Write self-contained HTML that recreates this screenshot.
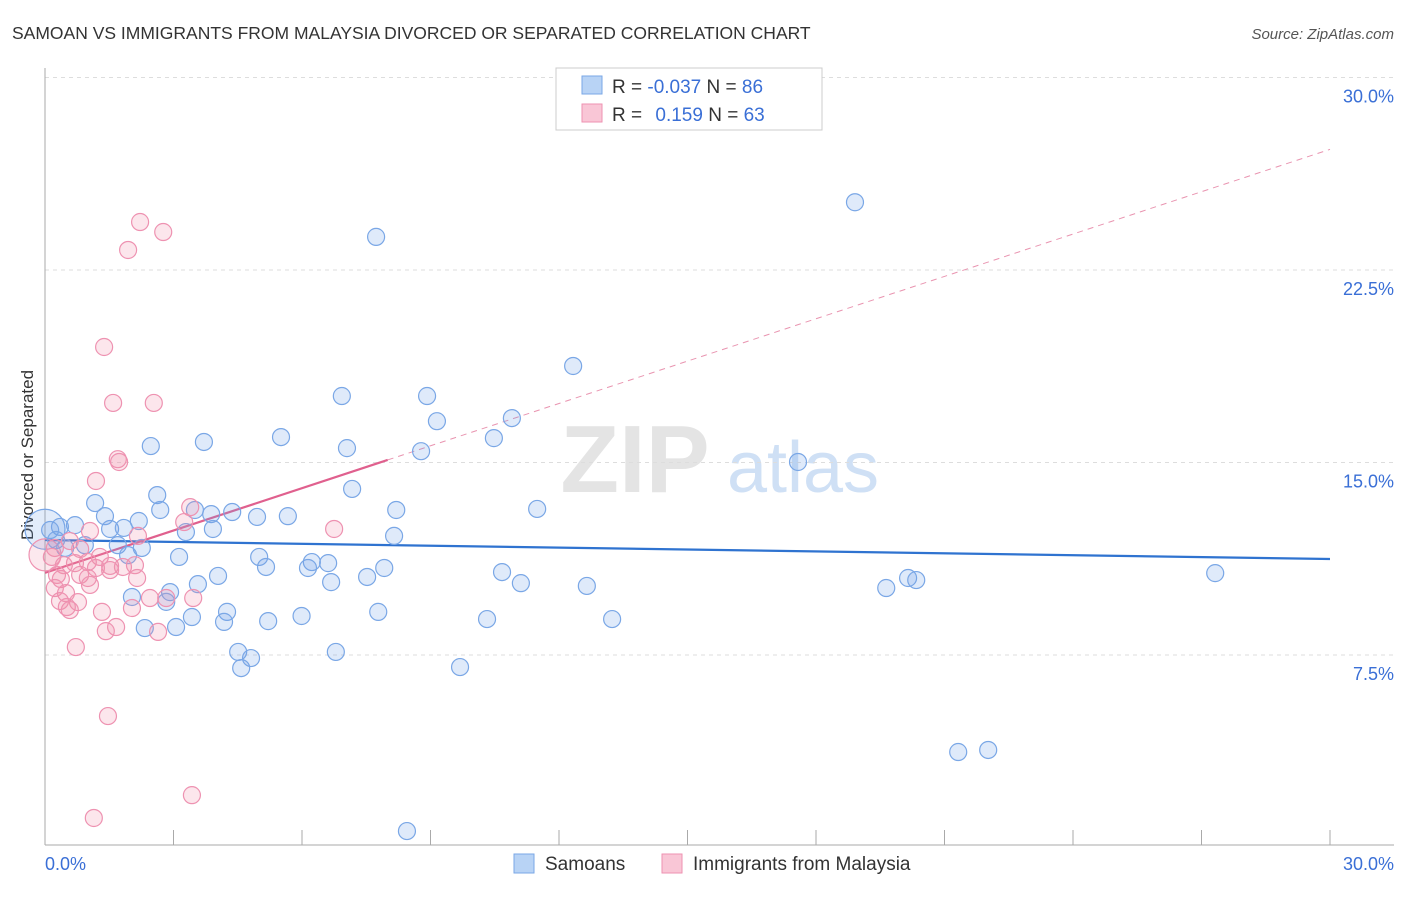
<!DOCTYPE html>
<html><head><meta charset="utf-8"><style>
body{margin:0;background:#fff;font-family:"Liberation Sans",sans-serif;}
svg text{font-family:"Liberation Sans",sans-serif;}
</style></head><body>
<svg id="chart" width="1406" height="892" xmlns="http://www.w3.org/2000/svg">
<text x="12" y="39" font-size="17.5" fill="#333">SAMOAN VS IMMIGRANTS FROM MALAYSIA DIVORCED OR SEPARATED CORRELATION CHART</text>
<text x="1394" y="39" font-size="15" fill="#555" text-anchor="end" font-style="italic">Source: ZipAtlas.com</text>
<text transform="translate(33,455) rotate(-90)" font-size="17" fill="#333" text-anchor="middle">Divorced or Separated</text>
<g>
<text x="635" y="492" font-size="96" fill="#e4e4e4" font-family="Liberation Serif" text-anchor="middle" font-weight="bold">ZIP</text>
<text x="803" y="492" font-size="72" fill="#cfe0f5" text-anchor="middle">atlas</text>
</g>
<g id="grid"></g><g id="axes"></g><g id="trend"></g><g id="pts"></g>
<g>
<rect x="556" y="68" width="266" height="62" fill="#fff" stroke="#ccc"/>
<rect x="582" y="76" width="20" height="18" fill="#b8d3f5" stroke="#7aa7e6"/>
<rect x="582" y="104" width="20" height="18" fill="#f9c6d6" stroke="#ee92b1"/>
<text x="612" y="93" font-size="19" fill="#333">R = <tspan fill="#3a6fd6">-0.037</tspan>   N = <tspan fill="#3a6fd6">86</tspan></text>
<text x="612" y="121" font-size="19" fill="#333">R =  <tspan fill="#3a6fd6" dx="8">0.159</tspan>   N = <tspan fill="#3a6fd6">63</tspan></text>
</g>
<g>
<rect x="514" y="854" width="20" height="19" fill="#b8d3f5" stroke="#7aa7e6"/>
<text x="545" y="870" font-size="19" fill="#333">Samoans</text>
<rect x="662" y="854" width="20" height="19" fill="#f9c6d6" stroke="#ee92b1"/>
<text x="693" y="870" font-size="19" fill="#333">Immigrants from Malaysia</text>
</g>
</svg>
<script>
const yTicks=[7.5,15.0,22.5,30.0];
const blueX=[18.91,7.73,12.33,6.93,8.92,9.15,10.90,10.48,8.78,7.05,5.51,3.71,2.47,17.58,7.17,2.62,1.17,2.69,3.50,3.88,4.37,4.95,5.67,8.20,11.49,1.40,2.19,0.70,0.35,1.52,1.84,3.29,3.92,8.15,0.12,0.93,1.70,2.26,1.94,3.13,5.00,5.16,6.23,6.61,6.14,7.92,7.52,6.68,4.04,3.57,2.92,2.03,2.83,10.67,11.11,12.65,19.64,20.15,20.34,27.32,4.25,3.43,4.18,5.21,5.99,7.78,10.32,13.24,2.33,3.06,4.51,4.81,4.58,6.79,9.69,21.32,22.02,8.45,0.26,0.47];
const blueY=[25.14,23.79,18.76,17.59,17.59,16.61,16.73,15.95,15.44,15.56,15.99,15.80,15.64,15.02,13.97,13.73,13.42,13.15,13.15,12.99,13.07,12.88,12.91,13.15,13.19,12.91,12.72,12.56,12.49,12.41,12.45,12.29,12.41,12.14,12.37,11.78,11.78,11.67,11.39,11.32,11.32,10.93,11.12,11.08,10.89,10.89,10.54,10.34,10.58,10.26,9.95,9.76,9.57,10.73,10.30,10.19,10.11,10.50,10.42,10.69,9.18,8.98,8.79,8.82,9.02,9.18,8.90,8.90,8.55,8.59,7.62,7.38,6.99,7.62,7.03,3.72,3.80,0.64,11.98,11.67];
const pinkX=[2.22,2.76,1.94,1.38,1.59,2.54,1.70,1.73,1.19,3.39,3.25,6.75,2.17,1.05,0.58,0.23,0.82,0.16,1.28,1.00,0.70,0.44,1.52,1.19,1.82,2.10,0.28,0.82,1.00,0.37,1.52,2.15,1.05,0.23,0.49,2.45,2.83,3.46,0.77,0.35,0.51,0.58,1.33,2.03,1.66,1.42,2.64,0.72,1.47,3.43,1.14];
const pinkY=[24.37,23.98,23.28,19.50,17.32,17.32,15.13,15.02,14.28,13.26,12.68,12.41,12.14,12.33,11.94,11.67,11.63,11.32,11.32,11.12,11.08,11.00,10.97,10.89,10.93,11.00,10.62,10.62,10.50,10.46,10.81,10.50,10.23,10.11,9.91,9.72,9.72,9.72,9.56,9.60,9.37,9.25,9.18,9.33,8.59,8.43,8.40,7.81,5.12,2.04,1.15];
const blueTrend=[11.98,11.24];
const pinkTrend=[10.7,15.1,27.2];
const pinkSolidEnd=8.0;
const X=v=>45+v*1285/30, Y=v=>847.5-v*770/30;
const NS="http://www.w3.org/2000/svg";
function mk(parent,tag,attrs){const e=document.createElementNS(NS,tag);for(const k in attrs)e.setAttribute(k,attrs[k]);document.getElementById(parent).appendChild(e);return e;}
yTicks.forEach(t=>{
 const g=mk('grid','line',{x1:45,x2:1394,y1:Y(t),y2:Y(t),stroke:'#ddd','stroke-dasharray':'4,4'});
 
 
 const l=mk('grid','text',{x:1394,y:Y(t)+25,'font-size':18,fill:'#3a6fd6','text-anchor':'end'});
 l.textContent=t.toFixed(1)+'%';
 
 
});
const ax=mk('axes','line',{x1:45,x2:45,y1:68,y2:845,stroke:'#aaa'});


const bx=mk('axes','line',{x1:45,x2:1394,y1:845,y2:845,stroke:'#aaa'});


for(let i=0;i<=10;i++){const t=mk('axes','line',{x1:X(i*3),x2:X(i*3),y1:830,y2:845,stroke:'#aaa'});
 
 }
const x0=mk('axes','text',{x:45,y:870,'font-size':18,fill:'#3a6fd6'});x0.textContent='0.0%';


const x1=mk('axes','text',{x:1394,y:870,'font-size':18,fill:'#3a6fd6','text-anchor':'end'});x1.textContent='30.0%';


function dot(cx,cy,r,fill,stroke,name){const c=mk('pts','circle',{cx:X(cx),cy:Y(cy),r:r,fill:fill,stroke:stroke,'stroke-width':1.2});
 
 }
dot(0,12.4,20,'rgba(110,160,230,0.2)','#7aa7e6','samoan-point-large');
dot(0,11.4,16,'rgba(240,140,170,0.2)','#ee92b1','malaysia-point-large');
blueX.forEach((v,i)=>dot(v,blueY[i],8.5,'rgba(110,160,230,0.22)','#7aa7e6','samoan-point'));
pinkX.forEach((v,i)=>dot(v,pinkY[i],8.5,'rgba(240,140,170,0.22)','#ee92b1','malaysia-point'));
const bt=mk('trend','line',{x1:X(0),y1:Y(blueTrend[0]),x2:X(30),y2:Y(blueTrend[1]),stroke:'#2f73d0','stroke-width':2.2});


const pd=mk('trend','line',{x1:X(pinkSolidEnd),y1:Y(pinkTrend[1]),x2:X(30),y2:Y(pinkTrend[2]),stroke:'#e994b0','stroke-width':1,'stroke-dasharray':'6,5'});


const ps=mk('trend','line',{x1:X(0),y1:Y(pinkTrend[0]),x2:X(pinkSolidEnd),y2:Y(pinkTrend[1]),stroke:'#e0608e','stroke-width':2.2});


</script>
</body></html>
